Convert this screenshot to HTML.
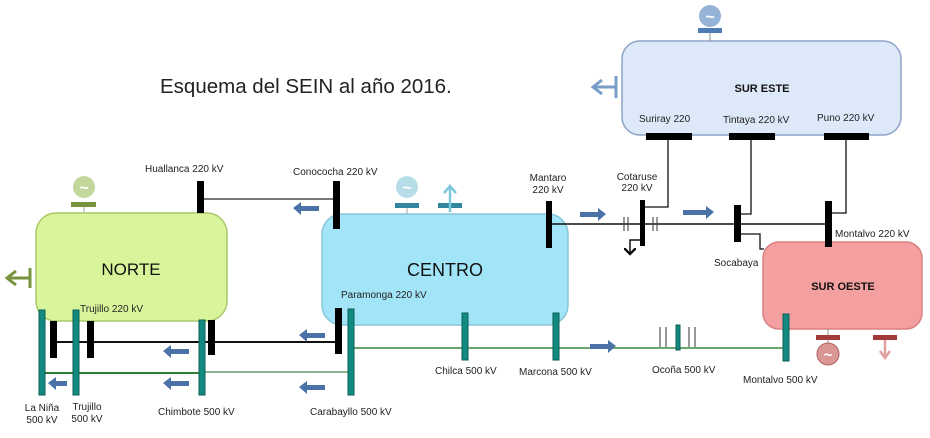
<!DOCTYPE html>
<html><head><meta charset="utf-8"><style>
html,body{margin:0;padding:0;background:#fff;}
svg{display:block;font-family:"Liberation Sans",sans-serif;}
.l{font-size:10px;fill:#222;}
</style></head><body>
<svg width="930" height="438" viewBox="0 0 930 438">
<defs>
<marker id="ah" markerWidth="8" markerHeight="8" refX="4" refY="4" orient="auto"><path d="M0,0 L4,4 L0,8" fill="none" stroke="#000" stroke-width="1.5"/></marker>
</defs>
<rect x="36" y="213" width="191" height="108" rx="20" fill="#d8f59b" stroke="#a9c96a" stroke-width="1.5"/>
<rect x="322" y="214" width="246" height="111" rx="20" fill="#a2e5f9" stroke="#88c4d8" stroke-width="1.5"/>
<rect x="622" y="41" width="279" height="94" rx="18" fill="#dde8f8" stroke="#8ea4c8" stroke-width="1.5"/>
<rect x="763" y="242" width="159" height="87" rx="16" fill="#f5a0a0" stroke="#d98080" stroke-width="1.5"/>
<text x="160" y="93" font-size="20.5" fill="#222">Esquema del SEIN al año 2016.</text>
<text x="131" y="275" font-size="17" fill="#111" text-anchor="middle">NORTE</text>
<text x="445" y="276" font-size="18" fill="#111" text-anchor="middle">CENTRO</text>
<text x="762" y="92" font-size="11" font-weight="bold" fill="#111" text-anchor="middle">SUR ESTE</text>
<text x="843" y="290" font-size="11" font-weight="bold" fill="#111" text-anchor="middle">SUR OESTE</text>
<line x1="204" y1="199" x2="333" y2="199" stroke="#777" stroke-width="2"/>
<line x1="57" y1="342" x2="337" y2="342" stroke="#111" stroke-width="2"/>
<line x1="45" y1="373" x2="199" y2="373" stroke="#2e7d32" stroke-width="2"/>
<line x1="205" y1="372" x2="348" y2="372" stroke="#6a9a6a" stroke-width="1.5"/>
<line x1="354" y1="348" x2="783" y2="348" stroke="#3a8a3a" stroke-width="1.5"/>
<line x1="552" y1="224" x2="832" y2="224" stroke="#111" stroke-width="1.5"/>
<polyline points="668,140 668,207 644,207" fill="none" stroke="#111" stroke-width="1.3"/>
<polyline points="751,140 751,214 741,214" fill="none" stroke="#111" stroke-width="1.3"/>
<polyline points="846,140 846,213 832,213" fill="none" stroke="#111" stroke-width="1.3"/>
<polyline points="741,234 760,234 760,249 764,249" fill="none" stroke="#111" stroke-width="1.3"/>
<polyline points="640,240 630,240 630,254" fill="none" stroke="#111" stroke-width="1.5" marker-end="url(#ah)"/>
<g stroke="#333" stroke-width="1"><line x1="624" y1="217" x2="624" y2="231"/><line x1="628" y1="217" x2="628" y2="231"/><line x1="653" y1="217" x2="653" y2="231"/><line x1="657" y1="217" x2="657" y2="231"/>
<line x1="660" y1="327" x2="660" y2="347"/><line x1="666" y1="327" x2="666" y2="347"/><line x1="689" y1="327" x2="689" y2="347"/><line x1="695" y1="327" x2="695" y2="347"/></g>
<g fill="#000">
<rect x="197" y="181" width="7" height="32"/>
<rect x="333" y="181" width="7" height="48"/>
<rect x="50" y="321" width="7" height="37"/>
<rect x="87" y="321" width="7" height="37"/>
<rect x="208" y="320" width="7" height="35"/>
<rect x="335" y="308" width="7" height="46"/>
<rect x="546" y="201" width="6" height="47"/>
<rect x="640" y="200" width="5" height="46"/>
<rect x="734" y="205" width="7" height="37"/>
<rect x="825" y="201" width="7" height="46"/>
<rect x="646" y="133" width="46" height="7"/>
<rect x="729" y="133" width="46" height="7"/>
<rect x="824" y="133" width="45" height="7"/>
</g>
<g fill="#138a80" stroke="#0b5e57" stroke-width="1">
<rect x="39" y="310" width="6" height="85"/>
<rect x="73" y="310" width="6" height="85"/>
<rect x="199" y="320" width="6" height="75"/>
<rect x="348" y="309" width="6" height="86"/>
<rect x="462" y="313" width="6" height="47"/>
<rect x="553" y="313" width="6" height="47"/>
<rect x="676" y="325" width="4" height="25"/>
<rect x="783" y="314" width="6" height="47"/>
</g>
<g fill="#4a72a6">
<path d="M293,208 l8,-6 v4 h18 v5 h-18 v4z"/>
<path d="M299,335 l8,-6 v4 h18 v5 h-18 v4z"/>
<path d="M163,351 l8,-6 v4 h18 v5 h-18 v4z"/>
<path d="M163,383 l8,-6 v4 h18 v5 h-18 v4z"/>
<path d="M48,383 l8,-6 v4 h11 v5 h-11 v4z"/>
<path d="M299,387 l8,-6 v4 h18 v5 h-18 v4z"/>
<path d="M606,214 l-8,-6 v4 h-18 v5 h18 v4z"/>
<path d="M714,212 l-8,-6 v4 h-23 v5 h23 v4z"/>
<path d="M616,346 l-8,-6 v4 h-18 v5 h18 v4z"/>
</g>
<line x1="84" y1="205" x2="84" y2="213" stroke="#aaa"/>
<circle cx="84" cy="187" r="11" fill="#c3d69b"/><text x="84" y="193" font-size="16" fill="#fff" text-anchor="middle" font-weight="bold">~</text>
<rect x="71" y="202" width="25" height="5" fill="#77933c"/>
<path d="M30,268 v20 M30,278 H8 M16,271 L7,278 L16,285" stroke="#77933c" stroke-width="3" fill="none"/>
<line x1="407" y1="205" x2="407" y2="214" stroke="#aaa"/>
<circle cx="407" cy="187" r="11" fill="#b7dee8"/><text x="407" y="193" font-size="16" fill="#fff" text-anchor="middle" font-weight="bold">~</text>
<rect x="395" y="203" width="24" height="5" fill="#31859c"/>
<rect x="438" y="203" width="24" height="5" fill="#31859c"/>
<path d="M450,212 V186 M444,193 L450,186 L456,193" stroke="#7ec8dc" stroke-width="2.5" fill="none"/>
<line x1="710" y1="33" x2="710" y2="41" stroke="#888"/>
<circle cx="710" cy="16" r="11" fill="#95b3d7"/><text x="710" y="22" font-size="16" fill="#fff" text-anchor="middle" font-weight="bold">~</text>
<rect x="698" y="28" width="24" height="5" fill="#4f7bb5"/>
<path d="M616,76 v22 M616,87 H594 M602,80 L593,87 L602,94" stroke="#7a9cc9" stroke-width="3" fill="none"/>
<line x1="828" y1="329" x2="828" y2="345" stroke="#999"/>
<rect x="816" y="335" width="24" height="5" fill="#a33b3b"/>
<circle cx="828" cy="354" r="11" fill="#d99694" stroke="#b06060"/><text x="828" y="360" font-size="15" fill="#fff" text-anchor="middle" font-weight="bold">~</text>
<rect x="873" y="335" width="24" height="5" fill="#a33b3b"/>
<path d="M885,340 V357 M880,351 L885,358 L890,351" stroke="#e0a0a0" stroke-width="2.5" fill="none"/>
<text class="l" x="145" y="172">Huallanca 220 kV</text>
<text class="l" x="293" y="175">Conococha 220 kV</text>
<text class="l" x="80" y="312">Trujillo 220 kV</text>
<text class="l" x="341" y="298">Paramonga 220 kV</text>
<text class="l" x="548" y="181" text-anchor="middle">Mantaro</text>
<text class="l" x="548" y="193" text-anchor="middle">220 kV</text>
<text class="l" x="637" y="180" text-anchor="middle">Cotaruse</text>
<text class="l" x="637" y="191" text-anchor="middle">220 kV</text>
<text class="l" x="639" y="122">Suriray 220</text>
<text class="l" x="723" y="123">Tintaya 220 kV</text>
<text class="l" x="817" y="121">Puno 220 kV</text>
<text class="l" x="835" y="237">Montalvo 220 kV</text>
<text class="l" x="714" y="266">Socabaya</text>
<text class="l" x="42" y="411" text-anchor="middle">La Niña</text>
<text class="l" x="42" y="423" text-anchor="middle">500 kV</text>
<text class="l" x="87" y="410" text-anchor="middle">Trujillo</text>
<text class="l" x="87" y="422" text-anchor="middle">500 kV</text>
<text class="l" x="158" y="415">Chimbote 500 kV</text>
<text class="l" x="310" y="415">Carabayllo 500 kV</text>
<text class="l" x="435" y="374">Chilca 500 kV</text>
<text class="l" x="519" y="375">Marcona 500 kV</text>
<text class="l" x="652" y="373">Ocoña 500 kV</text>
<text class="l" x="743" y="383">Montalvo 500 kV</text>
</svg>
</body></html>
